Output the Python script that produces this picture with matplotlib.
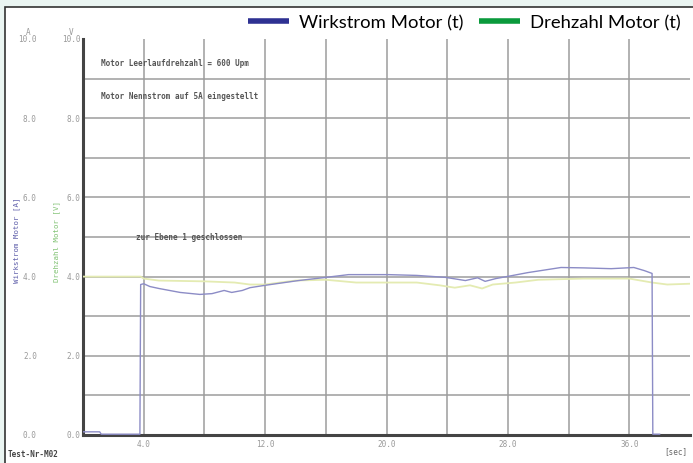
import numpy as np
import matplotlib
matplotlib.use('Agg')
import matplotlib.pyplot as plt
from matplotlib.patches import Rectangle
from matplotlib.lines import Line2D

# Wirkstrom Motor (t) [A]
t_strom = [0.0, 1.1, 1.2, 3.75, 3.8, 4.0, 4.4, 5.0, 6.4, 7.7, 8.5, 9.3, 9.8,
           10.5, 11.0, 12.0, 14.2, 16.0, 17.5, 20.1, 22.0, 23.9, 25.2, 26.0,
           26.5, 27.2, 28.2, 29.3, 31.5, 33.0, 34.8, 36.3, 37.0, 37.5, 37.55, 38.0]
strom = [0.08, 0.08, 0.02, 0.02, 3.8, 3.82, 3.75, 3.7, 3.6, 3.55, 3.57, 3.65, 3.6,
         3.65, 3.72, 3.78, 3.9, 3.98, 4.05, 4.05, 4.03, 3.98, 3.9, 3.97,
         3.88, 3.95, 4.02, 4.1, 4.23, 4.22, 4.2, 4.23, 4.15, 4.08, 0.02, 0.02]

# Drehzahl Motor (t) [V]
t_drehzahl = [0.0, 3.8, 4.0, 5.0, 8.0, 10.0, 11.0, 12.0, 14.0, 16.0, 18.0, 20.0,
              22.0, 23.5, 24.5, 25.5, 26.3, 27.0, 28.5, 30.0, 33.0, 36.0, 37.5,
              38.5, 40.0]
drehzahl = [4.0, 4.0, 3.95, 3.9, 3.88, 3.85, 3.8, 3.8, 3.9, 3.92, 3.85, 3.85,
            3.85, 3.78, 3.72, 3.78, 3.7, 3.8, 3.85, 3.92, 3.95, 3.95, 3.85,
            3.8, 3.82]

x_ticks = [4, 8, 12, 16, 20, 24, 28, 32, 36]
x_labels = ['4.0', '', '12.0', '', '20.0', '', '28.0', '', '36.0']
y_label_vals = [0, 2, 4, 6, 8, 10]
y_labels_a = ['0.0', '2.0', '4.0', '6.0', '8.0', '10.0']
y_labels_v = ['0.0', '2.0', '4.0', '6.0', '8.0', '10.0']

mono = 'DejaVu Sans Mono'
fig = plt.figure(figsize=(6.93, 4.64), dpi=100)
fig.patch.set_facecolor('#eaf5f2')

# white panel with dark frame
fig.patches.append(Rectangle((5 / 693, -0.01), 1.0, (464 - 8) / 464 + 0.01,
                             transform=fig.transFigure, facecolor='white',
                             edgecolor='#333333', linewidth=1.2, zorder=-5))

ax = fig.add_axes([83 / 693, 28 / 464, 607 / 693, 396 / 464])
ax.set_facecolor('none')
ax.set_xlim(0, 40)
ax.set_ylim(0, 10)

ax.set_xticks(x_ticks)
ax.set_xticklabels(x_labels, fontsize=5.5, color='#999999', family=mono)
ax.set_yticks(range(1, 10))
ax.set_yticklabels([])
ax.tick_params(length=0, pad=3)
ax.grid(True, color='#9c9c9c', linewidth=1.1)

for side in ['top', 'right']:
    ax.spines[side].set_visible(False)
for side in ['left', 'bottom']:
    ax.spines[side].set_color('#444444')
    ax.spines[side].set_linewidth(2.2)

ax.plot(t_drehzahl, drehzahl, color='#e4ebb2', linewidth=1.3, zorder=3)
ax.plot(t_strom, strom, color='#8c8cc6', linewidth=1.0, zorder=4)

# two columns of y tick labels
trans = ax.get_yaxis_transform()
for v, la, lv in zip(y_label_vals, y_labels_a, y_labels_v):
    ax.text(-0.076, v, la, transform=trans, ha='right', va='center',
            fontsize=5.5, color='#999999', family=mono)
    ax.text(-0.004, v, lv, transform=trans, ha='right', va='center',
            fontsize=5.5, color='#999999', family=mono)
ax.text(-0.09, 10.2, 'A', transform=trans, ha='center', va='center',
        fontsize=5.5, color='#999999', family=mono)
ax.text(-0.02, 10.2, 'V', transform=trans, ha='center', va='center',
        fontsize=5.5, color='#999999', family=mono)

fig.text(17 / 693, 1 - 240 / 464, 'Wirkstrom Motor [A]', rotation=90,
         ha='center', va='center', fontsize=5.3, color='#5b5ba8', family=mono)
fig.text(57 / 693, 1 - 242 / 464, 'Drehzahl Motor [V]', rotation=90,
         ha='center', va='center', fontsize=5.3, color='#7cc06e', family=mono)

note_kw = dict(fontsize=5.5, color='#555555', family=mono, fontweight='bold')
ax.text(1.2, 9.35, 'Motor Leerlaufdrehzahl = 600 Upm', **note_kw)
ax.text(1.2, 8.5, 'Motor Nennstrom auf 5A eingestellt', **note_kw)
ax.text(3.5, 4.95, 'zur Ebene 1 geschlossen', **note_kw)

fig.text(8 / 693, 1 - 455 / 464, 'Test-Nr-M02', ha='left', va='center',
         fontsize=5.5, color='#444444', family=mono, fontweight='bold')
fig.text(687 / 693, 1 - 452 / 464, '[sec]', ha='right', va='center',
         fontsize=5.5, color='#666666', family=mono)

handles = [Line2D([], [], color='#2e3192', linewidth=4, solid_capstyle='butt'),
           Line2D([], [], color='#0a9a3c', linewidth=4, solid_capstyle='butt')]
fig.legend(handles, ['Wirkstrom Motor (t)', 'Drehzahl Motor (t)'],
           loc='center right', bbox_to_anchor=(681 / 693, 1 - 23 / 464),
           ncol=2, frameon=False, handlelength=2.2, handletextpad=0.55,
           columnspacing=0.85, borderpad=0, borderaxespad=0,
           prop={'family': 'Lato', 'size': 13.3})

fig.savefig('out.png', dpi=100)
